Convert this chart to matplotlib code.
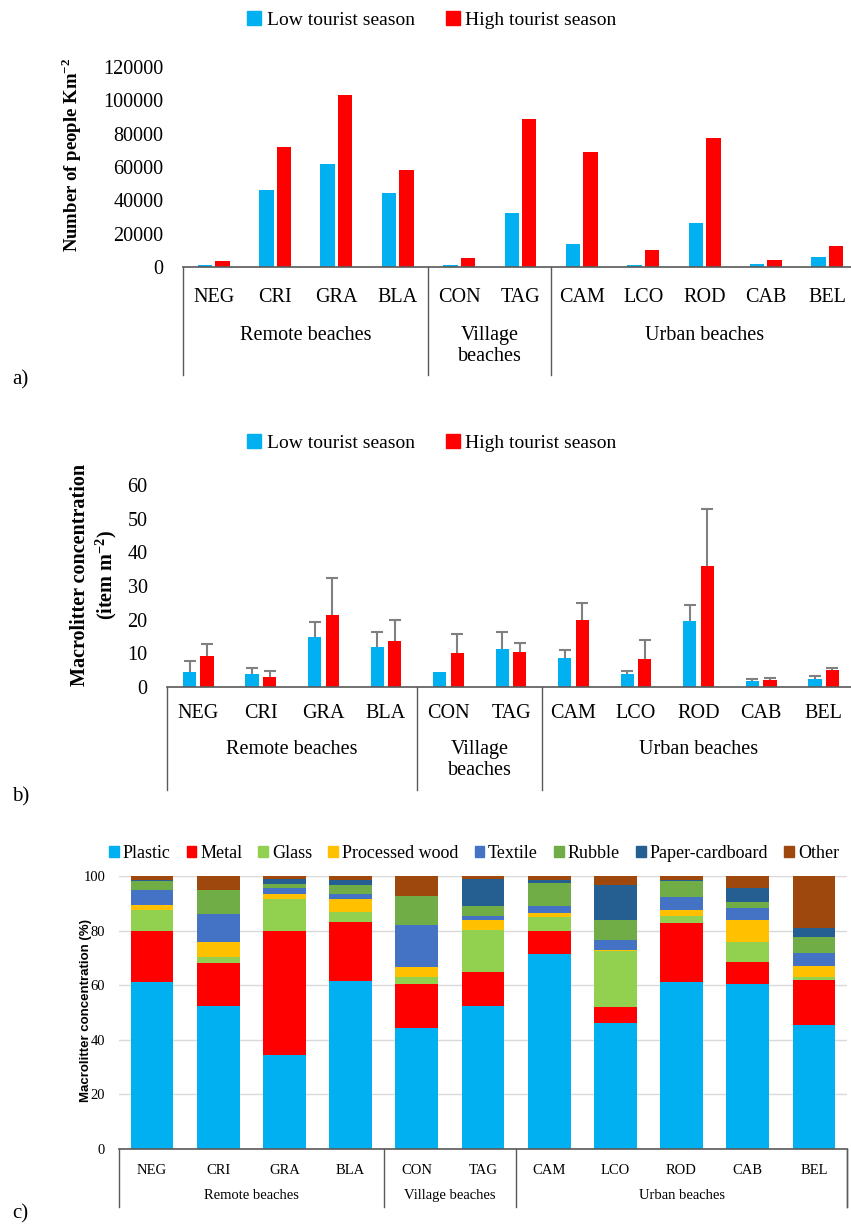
import matplotlib
matplotlib.use("Agg")
import matplotlib.pyplot as plt
import matplotlib.transforms as mtransforms
from matplotlib.patches import Patch
import numpy as np

plt.rcParams['font.family'] = ['Liberation Serif', 'DejaVu Serif']
plt.rcParams['mathtext.fontset'] = 'custom'
plt.rcParams['mathtext.rm'] = 'Liberation Serif'
plt.rcParams['mathtext.bf'] = 'Liberation Serif:bold'
plt.rcParams['axes.unicode_minus'] = False

# ---------------- data ----------------
beaches = ["NEG", "CRI", "GRA", "BLA", "CON", "TAG", "CAM", "LCO", "ROD", "CAB", "BEL"]
groups = ["Remote beaches", "Village\nbeaches", "Urban beaches"]
groups_c = ["Remote beaches", "Village beaches", "Urban beaches"]
group_sizes = [4, 2, 5]

# a) people per km2
people_low = [1500, 46000, 62000, 44200, 1500, 32600, 14000, 1200, 26600, 1800, 6200]
people_high = [3500, 72200, 103400, 58400, 5600, 88600, 69200, 10200, 77600, 4000, 12400]

# b) macrolitter concentration (item m-2)
litter_low = [4.4, 3.9, 15.0, 11.8, 4.6, 11.3, 8.7, 3.9, 19.5, 1.8, 2.5]
litter_low_err = [3.4, 1.6, 4.4, 4.6, 0.0, 5.1, 2.2, 0.9, 4.9, 0.7, 0.9]
litter_high = [9.1, 3.1, 21.5, 13.6, 10.2, 10.5, 19.9, 8.3, 36.0, 2.2, 5.0]
litter_high_err = [3.7, 1.7, 10.8, 6.3, 5.5, 2.6, 5.1, 5.6, 16.9, 0.6, 0.7]

# c) composition (%)
materials = ["Plastic", "Metal", "Glass", "Processed wood", "Textile", "Rubble", "Paper-cardboard", "Other"]
plastic = [61.0, 52.5, 34.5, 61.6, 44.2, 52.5, 71.6, 46.3, 61.3, 60.3, 45.4]
metal = [19.0, 15.5, 45.3, 21.7, 16.1, 12.4, 8.3, 5.6, 21.6, 8.2, 16.5]
glass = [7.5, 2.2, 11.7, 3.5, 2.8, 15.5, 4.9, 20.6, 2.5, 7.4, 1.2]
wood = [2.0, 5.7, 1.8, 4.7, 3.6, 3.4, 1.7, 0.3, 2.3, 8.1, 3.9]
textile = [5.3, 10.0, 2.4, 2.0, 15.2, 1.6, 2.5, 3.9, 4.6, 4.3, 4.9]
rubble = [3.4, 8.9, 1.5, 3.1, 10.8, 3.6, 8.6, 7.1, 5.9, 2.0, 5.7]
paper = [0.2, 0.0, 1.8, 1.8, 0.0, 9.8, 0.8, 12.8, 0.2, 5.4, 3.2]
other = [1.6, 5.2, 1.0, 1.6, 7.3, 1.2, 1.6, 3.4, 1.6, 4.3, 19.2]

# ---------------- style ----------------
C_LOW = "#00B0F0"
C_HIGH = "#FF0000"
mat_colors = ["#00B0F0", "#FF0000", "#92D050", "#FFC000", "#4472C4", "#70AD47", "#255E91", "#9E480E"]
LINE = "#595959"
ERR = "#808080"

W, H = 851, 1224
fig = plt.figure(figsize=(W / 100, H / 100), dpi=100)


def fy(py):
    return 1 - py / H


def fx(px):
    return px / W


def ax_rect(left, right, top, bottom):
    return [fx(left), fy(bottom), fx(right) - fx(left), (bottom - top) / H]


def group_decor(ax, fs_cat, fs_grp, y_cat, y_grp, y_end, glabels):
    tr = mtransforms.blended_transform_factory(ax.transData, fig.transFigure)
    xx = np.arange(len(beaches))
    for xi, name in zip(xx, beaches):
        ax.text(xi, fy(y_cat), name, transform=tr, ha="center", va="center",
                fontsize=fs_cat)
    edges = np.concatenate([[0], np.cumsum(group_sizes)]) - 0.5
    for e in edges:
        ax.plot([e, e], [ax.get_position().y0, fy(y_end)], transform=tr,
                color=LINE, lw=1.0, clip_on=False)
    for i, g in enumerate(glabels):
        cx = (edges[i] + edges[i + 1]) / 2
        ax.text(cx, fy(y_grp), g, transform=tr, ha="center", va="top",
                fontsize=fs_grp, linespacing=1.15)


def clean(ax):
    for s in ["top", "right", "left"]:
        ax.spines[s].set_visible(False)
    ax.spines["bottom"].set_color(LINE)
    ax.spines["bottom"].set_linewidth(1.2)
    ax.set_xticks([])
    ax.tick_params(axis="y", length=0)


def upper_err(ax, xs, vals, errs):
    xs = np.asarray(xs)
    vals = np.asarray(vals)
    errs = np.asarray(errs)
    m = errs > 0
    tops = vals[m] + errs[m]
    ax.vlines(xs[m], vals[m], tops, color=ERR, lw=1.5, zorder=3)
    ax.plot(xs[m], tops, ls="none", marker="_", ms=9, mew=1.5, color=ERR, zorder=3)


x = np.arange(len(beaches))

# ---------------- a) ----------------
axa = fig.add_axes(ax_rect(183, 858, 67, 267))
bw = 0.236
off = 0.142
axa.bar(x - off, people_low, bw, color=C_LOW, label="Low tourist season")
axa.bar(x + off, people_high, bw, color=C_HIGH, label="High tourist season")
axa.set_xlim(-0.5, len(beaches) - 0.5)
axa.set_ylim(0, 120000)
axa.set_yticks(np.arange(0, 120001, 20000))
axa.tick_params(axis="y", labelsize=14.5, pad=14)
clean(axa)
group_decor(axa, 14.5, 14.5, 298, 326, 375, groups)
fig.text(fx(72), fy(155), r"Number of people Km$^{\mathbf{-2}}$",
         rotation=90, ha="center", va="center", fontsize=13.5, fontweight="bold")
fig.legend(handles=[Patch(color=C_LOW), Patch(color=C_HIGH)],
           labels=["Low tourist season", "High tourist season"],
           loc="center", bbox_to_anchor=(fx(432), fy(20)), ncol=2, frameon=False,
           fontsize=14, handlelength=0.7, handleheight=0.7, handletextpad=0.3,
           columnspacing=1.6)
fig.text(fx(12), fy(380), "a)", fontsize=15, ha="left", va="center")

# ---------------- b) ----------------
axb = fig.add_axes(ax_rect(167, 855, 485, 687))
bw2 = 0.21
off2 = 0.14
axb.bar(x - off2, litter_low, bw2, color=C_LOW, zorder=2)
axb.bar(x + off2, litter_high, bw2, color=C_HIGH, zorder=2)
upper_err(axb, x - off2, litter_low, litter_low_err)
upper_err(axb, x + off2, litter_high, litter_high_err)
axb.set_xlim(-0.5, len(beaches) - 0.5)
axb.set_ylim(0, 60)
axb.set_yticks(np.arange(0, 61, 10))
axb.tick_params(axis="y", labelsize=14.5, pad=14)
clean(axb)
group_decor(axb, 14.5, 14.5, 713, 740, 790, groups)
fig.text(fx(80), fy(575), "Macrolitter concentration", rotation=90,
         ha="center", va="center", fontsize=14.5, fontweight="bold")
fig.text(fx(106), fy(575), r"(item m$^{\mathbf{-2}}$)", rotation=90,
         ha="center", va="center", fontsize=14.5, fontweight="bold")
fig.legend(handles=[Patch(color=C_LOW), Patch(color=C_HIGH)],
           labels=["Low tourist season", "High tourist season"],
           loc="center", bbox_to_anchor=(fx(432), fy(443)), ncol=2, frameon=False,
           fontsize=14, handlelength=0.7, handleheight=0.7, handletextpad=0.3,
           columnspacing=1.6)
fig.text(fx(12), fy(797), "b)", fontsize=15, ha="left", va="center")

# ---------------- c) ----------------
axc = fig.add_axes(ax_rect(119, 847, 876, 1149))
series = [plastic, metal, glass, wood, textile, rubble, paper, other]
bottom = np.zeros(len(beaches))
for vals, col, name in zip(series, mat_colors, materials):
    v = np.array(vals)
    axc.bar(x, v, 0.645, bottom=bottom, color=col, label=name, zorder=2)
    bottom += v
axc.set_xlim(-0.5, len(beaches) - 0.5)
axc.set_ylim(0, 100)
axc.set_yticks(np.arange(0, 101, 20))
axc.yaxis.grid(True, color="#D9D9D9", lw=1.0, zorder=0)
axc.set_axisbelow(True)
axc.tick_params(axis="y", labelsize=10.5, pad=10)
clean(axc)
tr = mtransforms.blended_transform_factory(axc.transData, fig.transFigure)
axc.plot([len(beaches) - 0.5] * 2, [axc.get_position().y0, fy(1207)], transform=tr,
         color=LINE, lw=1.0, clip_on=False)
group_decor(axc, 10.5, 10.5, 1171, 1189, 1207, groups_c)
fig.text(fx(86), fy(1010), "Macrolitter concentration (%)", rotation=90,
         ha="center", va="center", fontsize=9.5, fontweight="bold",
         family=["Liberation Sans", "DejaVu Sans"])
fig.legend(handles=[Patch(color=c) for c in mat_colors], labels=materials,
           loc="center", bbox_to_anchor=(fx(474), fy(853)), ncol=8, frameon=False,
           fontsize=13, handlelength=0.55, handleheight=0.55, handletextpad=0.2,
           columnspacing=0.9)
fig.text(fx(12), fy(1214), "c)", fontsize=15, ha="left", va="center")

fig.savefig("out.png", dpi=100)
